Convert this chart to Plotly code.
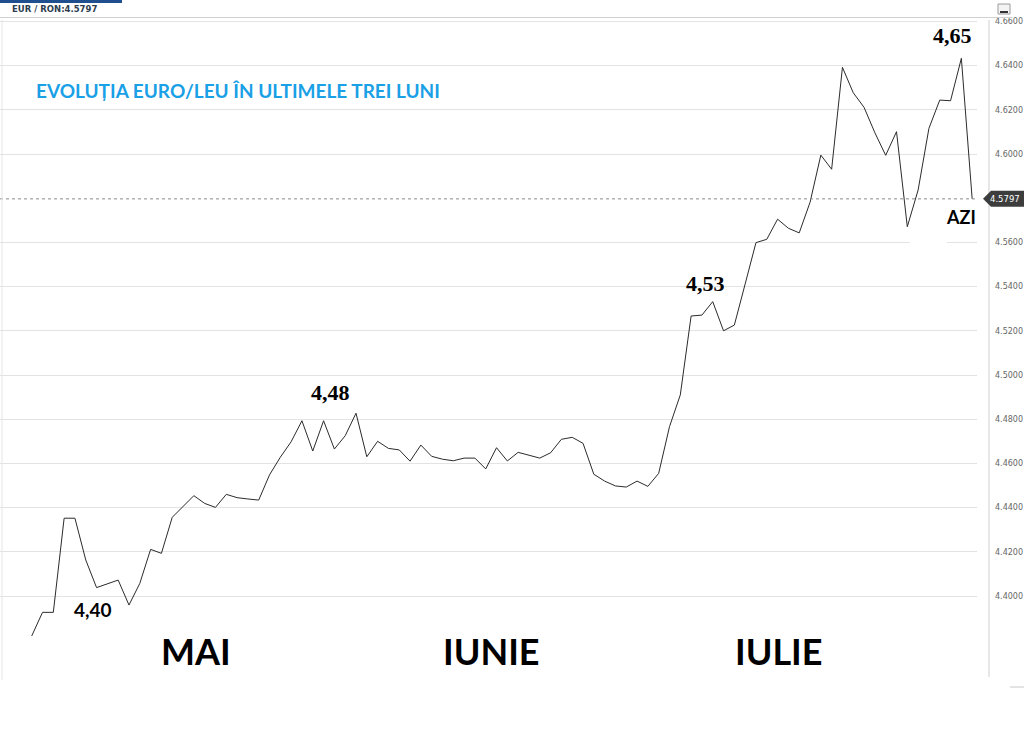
import plotly.graph_objects as go

# EUR/RON daily rate, oldest -> newest
rates = [
    4.3819, 4.3926, 4.3926, 4.4352, 4.4352, 4.4163, 4.4038, 4.4056, 4.4072, 4.3959,
    4.4057, 4.4211, 4.4193, 4.4356, 4.4404, 4.4454, 4.4419, 4.4401, 4.4460, 4.4445,
    4.4439, 4.4434, 4.4548, 4.4628, 4.4698, 4.4793, 4.4656, 4.4793, 4.4665, 4.4725,
    4.4827, 4.4630, 4.4700, 4.4668, 4.4661, 4.4610, 4.4683, 4.4632, 4.4619, 4.4612,
    4.4624, 4.4624, 4.4575, 4.4671, 4.4611, 4.4650, 4.4637, 4.4624, 4.4648, 4.4709,
    4.4718, 4.4691, 4.4551, 4.4520, 4.4498, 4.4493, 4.4520, 4.4496, 4.4555, 4.4766,
    4.4910, 4.5267, 4.5271, 4.5332, 4.5200, 4.5226, 4.5412, 4.5599, 4.5614, 4.5705,
    4.5664, 4.5643, 4.5781, 4.5995, 4.5931, 4.6392, 4.6277, 4.6211, 4.6096, 4.5994,
    4.6101, 4.5671, 4.5837, 4.6116, 4.6244, 4.6241, 4.6433, 4.5797,
]
day_index = list(range(len(rates)))
current_rate = 4.5797

tick_values = [4.40, 4.42, 4.44, 4.46, 4.48, 4.50, 4.52, 4.54, 4.56, 4.60, 4.62, 4.64, 4.66]
tick_labels = [f"{v:.4f}" for v in tick_values]

month_labels = ["MAI", "IUNIE", "IULIE"]
title_text = "EVOLUȚIA EURO/LEU ÎN ULTIMELE TREI LUNI"
header_text = "EUR / RON:4.5797"

W, H = 1024, 730
PL, PR, PT, PB = 0, 977, 18, 677  # plot area pixel box

def px(x):
    return (x - PL) / (PR - PL)

def py(y):
    return (PB - y) / (PB - PT)

fig = go.Figure()
fig.add_trace(go.Scatter(
    x=day_index, y=rates, mode="lines",
    line=dict(color="#2b2b2b", width=1),
    hoverinfo="skip", showlegend=False,
))

x0 = -31.7 / 10.81
x1 = (PR - 31.7) / 10.81

fig.update_layout(
    width=W, height=H,
    margin=dict(l=PL, r=W - PR, t=PT, b=H - PB, pad=0),
    paper_bgcolor="white", plot_bgcolor="white",
    showlegend=False,
    xaxis=dict(range=[x0, x1], visible=False, fixedrange=True),
    yaxis=dict(
        range=[4.40 - (PB - 596) / 2210, 4.40 + (596 - PT) / 2210],
        side="right", tickvals=tick_values, ticktext=tick_labels,
        showgrid=True, gridcolor="#e3e3e3", gridwidth=1,
        zeroline=False, showline=False, ticks="",
        ticklabelstandoff=17,
        tickfont=dict(family="DejaVu Sans", size=8, color="#666666"),
    ),
)

shapes = []
# dotted current-rate line
shapes.append(dict(type="line", xref="paper", yref="y", x0=0, x1=1, y0=current_rate, y1=current_rate,
                   line=dict(color="#8a8a8a", width=1, dash="dot")))
# gap in gridline under the "AZI" label
shapes.append(dict(type="rect", xref="paper", yref="paper", x0=px(910), x1=px(947), y0=py(247), y1=py(239),
                   fillcolor="white", line=dict(width=0)))
# right axis line
shapes.append(dict(type="line", xref="paper", yref="paper", x0=px(989), x1=px(989), y0=py(677), y1=py(20),
                   line=dict(color="#cfcfcf", width=1)))
# price tag
ty = current_rate
h = 8 / 2210
tag = (f"M {px(983)},{ty} L {px(991)},{ty + h} L {px(1024)},{ty + h} "
       f"L {px(1024)},{ty - h} L {px(991)},{ty - h} Z")
shapes.append(dict(type="path", xref="paper", yref="y", path=tag,
                   fillcolor="#3d3d3d", line=dict(width=0)))
# header elements
shapes.append(dict(type="rect", xref="paper", yref="paper", x0=px(0), x1=px(122), y0=py(0), y1=py(3),
                   fillcolor="#1f4f8e", line=dict(width=0)))
shapes.append(dict(type="line", xref="paper", yref="paper", x0=px(0), x1=px(1012), y0=py(17.5), y1=py(17.5),
                   line=dict(color="#d0d0d0", width=1)))
shapes.append(dict(type="rect", xref="paper", yref="paper", x0=px(998), x1=px(1010), y0=py(4), y1=py(14),
                   fillcolor="#f4f4f4", line=dict(color="#9a9a9a", width=1)))
shapes.append(dict(type="line", xref="paper", yref="paper", x0=px(1000), x1=px(1008), y0=py(12), y1=py(12),
                   line=dict(color="#333333", width=2)))
# left frame line and bottom frame
shapes.append(dict(type="line", xref="paper", yref="paper", x0=px(2), x1=px(2), y0=py(680), y1=py(20),
                   line=dict(color="#e6e6e6", width=1)))
shapes.append(dict(type="line", xref="paper", yref="paper", x0=px(1010), x1=px(1024), y0=py(687), y1=py(687),
                   line=dict(color="#c8c8c8", width=1)))
fig.update_layout(shapes=shapes)

ann = []
def add_text(text, x, y, family, size, color="#000000", bold=True, xanchor="center"):
    t = f"<b>{text}</b>" if bold else text
    ann.append(dict(text=t, xref="paper", yref="paper", x=px(x), y=py(y), showarrow=False,
                    xanchor=xanchor, yanchor="middle", font=dict(family=family, size=size, color=color)))

add_text(header_text, 10, 9, "DejaVu Sans", 8.5, "#2c3e50", xanchor="left")
add_text(title_text, 34, 90, "Lato", 19, "#1aa0e6", xanchor="left")
add_text("4,65", 952, 36, "Liberation Serif", 22)
add_text("4,53", 705, 283, "Liberation Serif", 22)
add_text("4,48", 330, 392, "Liberation Serif", 22)
add_text("4,40", 93, 609, "Lato", 19)
add_text("AZI", 961, 217, "Lato", 18)
add_text(month_labels[0], 196, 651, "Lato", 36)
add_text(month_labels[1], 492, 651, "Lato", 36)
add_text(month_labels[2], 778, 651, "Lato", 36)
ann.append(dict(text=f"{current_rate:.4f}", xref="paper", yref="y", x=px(1022), y=current_rate,
                showarrow=False, xanchor="right", yanchor="middle",
                font=dict(family="DejaVu Sans", size=8.5, color="#ffffff")))
fig.update_layout(annotations=ann)

fig.write_html(
    "out.html",
    config={"displayModeBar": False},
    post_script="document.body.style.margin='0';document.body.style.overflow='hidden';",
)
